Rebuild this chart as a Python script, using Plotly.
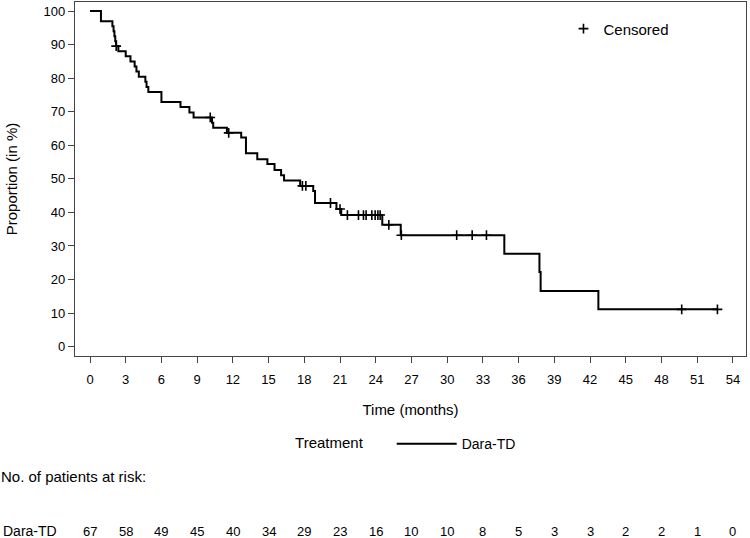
import plotly.graph_objects as go

# Kaplan-Meier step values (time in months, proportion in %)
km_time = [0, 0.92, 1.88, 1.98, 2.05, 2.12, 2.2, 2.38, 3.0, 3.4, 3.75, 3.9, 4.1,
           4.65, 4.75, 4.9, 6.0, 7.6, 8.35, 8.7, 10.25, 10.35, 11.5, 12.7, 13.1,
           14.05, 14.9, 15.5, 16.05, 16.3, 17.65, 18.75, 18.9, 20.7, 21.1, 24.55,
           26.1, 34.8, 37.75, 37.85, 42.7, 52.7]
km_surv = [100, 97.0, 95.5, 94.0, 92.5, 91.0, 89.55, 88.0, 86.5, 85.0, 83.5, 82.0, 80.4,
           78.9, 77.4, 75.9, 72.9, 71.4, 69.8, 68.3, 66.7, 65.2, 63.7, 62.3, 57.6,
           55.8, 54.4, 52.6, 51.1, 49.5, 47.9, 46.4, 42.8, 41.0, 39.2, 36.3,
           33.2, 27.7, 22.2, 16.6, 11.1, 11.1]

# Censored observations
cens_time = [2.2, 10.1, 11.65, 17.84, 18.13, 20.2, 21.0, 21.62, 22.55, 22.97, 23.19,
             23.67, 23.95, 24.18, 24.37, 25.1, 26.15, 30.8, 32.1, 33.3, 49.7, 52.7]
cens_surv = [89.55, 68.3, 63.7, 47.9, 47.9, 42.8, 41.0, 39.2, 39.2, 39.2, 39.2,
             39.2, 39.2, 39.2, 39.2, 36.3, 33.2, 33.2, 33.2, 33.2, 11.1, 11.1]

# Number at risk table
risk_times = [0, 3, 6, 9, 12, 15, 18, 21, 24, 27, 30, 33, 36, 39, 42, 45, 48, 51, 54]
risk_counts = [67, 58, 49, 45, 40, 34, 29, 23, 16, 10, 10, 8, 5, 3, 3, 2, 2, 1, 0]

FONT = "Liberation Sans"
fig = go.Figure()

fig.add_trace(go.Scatter(
    x=km_time, y=km_surv, mode="lines", line=dict(color="black", width=2, shape="hv"),
    name="Dara-TD", legend="legend", showlegend=True, hoverinfo="skip"))

fig.add_trace(go.Scatter(
    x=cens_time, y=cens_surv, mode="markers", name="Censored", legend="legend2",
    showlegend=True,
    marker=dict(symbol="cross-thin", size=7, line=dict(color="black", width=1.6))))

for t, n in zip(risk_times, risk_counts):
    fig.add_annotation(x=t, y=-0.495, xref="x", yref="paper", text=str(n),
                       showarrow=False, font=dict(family=FONT, size=13, color="black"),
                       xanchor="center", yanchor="middle")

fig.add_annotation(x=-0.110, y=-0.495, xref="paper", yref="paper", text="Dara-TD",
                   showarrow=False, font=dict(family=FONT, size=14, color="black"),
                   xanchor="left", yanchor="middle")
fig.add_annotation(x=-0.113, y=-0.341, xref="paper", yref="paper",
                   text="No. of patients at risk:", showarrow=False,
                   font=dict(family=FONT, size=15, color="black"),
                   xanchor="left", yanchor="middle")

fig.update_layout(
    width=750, height=538,
    margin=dict(l=75, r=4, t=2, b=182, autoexpand=False),
    paper_bgcolor="white", plot_bgcolor="white",
    showlegend=True,
    font=dict(family=FONT, size=13, color="black"),
    xaxis=dict(range=[-1.26, 55.1], tickmode="array", tickvals=risk_times,
               ticks="outside", ticklen=6, tickwidth=1, tickcolor="#444",
               ticklabelstandoff=5,
               showline=True, linecolor="#444", linewidth=1.3, mirror=True,
               showgrid=False, zeroline=False,
               title=dict(text="Time (months)", font=dict(size=15), standoff=18),
               tickfont=dict(size=13)),
    yaxis=dict(range=[-2.8, 102.7], tickmode="array", tickvals=list(range(0, 101, 10)),
               ticks="outside", ticklen=6, tickwidth=1, tickcolor="#444",
               showline=True, linecolor="#444", linewidth=1.3, mirror=True,
               showgrid=False, zeroline=False,
               title=dict(text="Proportion (in %)", font=dict(size=15), standoff=22),
               tickfont=dict(size=13)),
    legend=dict(orientation="h", x=0.325, y=-0.249, xanchor="left", yanchor="middle",
                title=dict(text="Treatment     ", side="left", font=dict(size=15)),
                font=dict(size=14), bgcolor="rgba(0,0,0,0)", itemwidth=60),
    legend2=dict(x=0.728, y=0.924, xanchor="left", yanchor="middle",
                 font=dict(size=15), bgcolor="rgba(0,0,0,0)", itemwidth=30),
)

fig.write_html("out.html", config={"displayModeBar": False},
               post_script="document.body.style.margin='0';")
